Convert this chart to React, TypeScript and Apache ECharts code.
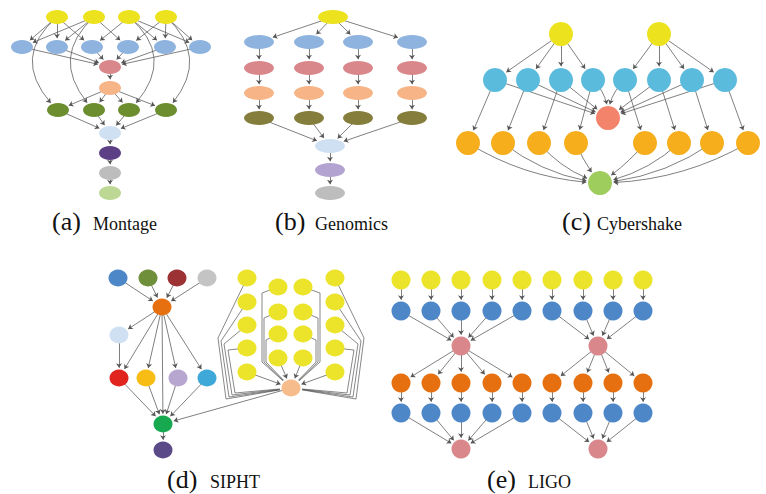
import { useEffect, useRef } from 'react';
import * as echarts from 'echarts';

// ---------- palette ----------
const PALETTE: Record<string, string> = {
  yellow: '#ece21e',
  mblue: '#8eb3de',
  pink: '#d9878b',
  peach: '#f7b486',
  mgreen: '#6c8e2f',
  lblue: '#cfe0f3',
  mpurple: '#5d3f86',
  gray: '#bdbdbd',
  lgreen: '#bcd894',
  olive: '#857d3c',
  lavender: '#b3a3d0',
  cyan: '#5bbbdc',
  salmon: '#f4836c',
  amber: '#f6ae1d',
  cgreen: '#9fcd5d',
  sblue: '#4d87c7',
  solive: '#6f8f3a',
  sred: '#9c3234',
  sgray: '#c4c4c4',
  sorange: '#e6700f',
  red: '#e2241f',
  gold: '#f8bd14',
  slav: '#b7a6cf',
  sky: '#3ea8d9',
  sgreen: '#16a94f',
  spurple: '#5b4a88',
  speach: '#f6bc8c',
  syellow: '#ebe42a',
};

type N = [string, number, number, string];
type E = [string, string, number?];

// ---------- (a) Montage ----------
const montageNodes: N[] = [
  ['Y1', 57, 17, 'yellow'], ['Y2', 94, 17, 'yellow'], ['Y3', 129, 17, 'yellow'], ['Y4', 166, 17, 'yellow'],
  ['B1', 22, 47, 'mblue'], ['B2', 57, 47, 'mblue'], ['B3', 92, 47, 'mblue'], ['B4', 128, 47, 'mblue'], ['B5', 165, 47, 'mblue'], ['B6', 200, 47, 'mblue'],
  ['P', 110, 67, 'pink'], ['O', 110, 88, 'peach'],
  ['G1', 58, 110, 'mgreen'], ['G2', 94, 110, 'mgreen'], ['G3', 129, 110, 'mgreen'], ['G4', 166, 110, 'mgreen'],
  ['L', 110, 133, 'lblue'], ['U', 110, 153, 'mpurple'], ['S', 110, 173, 'gray'], ['E', 110, 193, 'lgreen'],
];
const montageEdges: E[] = [
  ['Y1', 'B1'], ['Y2', 'B1'], ['Y1', 'B2'], ['Y2', 'B2'], ['Y1', 'B3'], ['Y3', 'B3'],
  ['Y2', 'B4'], ['Y4', 'B4'], ['Y3', 'B5'], ['Y4', 'B5'], ['Y3', 'B6'], ['Y4', 'B6'],
  ['B1', 'P'], ['B2', 'P'], ['B3', 'P'], ['B4', 'P'], ['B5', 'P'], ['B6', 'P'],
  ['P', 'O'], ['O', 'G1'], ['O', 'G2'], ['O', 'G3'], ['O', 'G4'],
  ['Y1', 'G1', -0.5], ['Y2', 'G2', -0.47], ['Y3', 'G3', 0.5], ['Y4', 'G4', 0.47],
  ['G1', 'L'], ['G2', 'L'], ['G3', 'L'], ['G4', 'L'],
  ['L', 'U'], ['U', 'S'], ['S', 'E'],
];

// ---------- (b) Genomics ----------
const genomicsNodes: N[] = [
  ['Y', 333, 17, 'yellow'],
  ['B1', 259, 42, 'mblue'], ['B2', 309, 42, 'mblue'], ['B3', 358, 42, 'mblue'], ['B4', 412, 42, 'mblue'],
  ['P1', 259, 68, 'pink'], ['P2', 309, 68, 'pink'], ['P3', 358, 68, 'pink'], ['P4', 412, 68, 'pink'],
  ['O1', 259, 93, 'peach'], ['O2', 309, 93, 'peach'], ['O3', 358, 93, 'peach'], ['O4', 412, 93, 'peach'],
  ['K1', 259, 118, 'olive'], ['K2', 309, 118, 'olive'], ['K3', 358, 118, 'olive'], ['K4', 412, 118, 'olive'],
  ['L', 330, 146, 'lblue'], ['V', 330, 170, 'lavender'], ['S', 330, 193, 'gray'],
];
const genomicsEdges: E[] = [
  ['Y', 'B1'], ['Y', 'B2'], ['Y', 'B3'], ['Y', 'B4'],
  ['B1', 'P1'], ['B2', 'P2'], ['B3', 'P3'], ['B4', 'P4'],
  ['P1', 'O1'], ['P2', 'O2'], ['P3', 'O3'], ['P4', 'O4'],
  ['O1', 'K1'], ['O2', 'K2'], ['O3', 'K3'], ['O4', 'K4'],
  ['K1', 'L'], ['K2', 'L'], ['K3', 'L'], ['K4', 'L'],
  ['L', 'V'], ['V', 'S'],
];

// ---------- (c) Cybershake ----------
const cyberNodes: N[] = [
  ['Y1', 561, 34, 'yellow'], ['Y2', 659, 34, 'yellow'],
  ['B1', 495, 80, 'cyan'], ['B2', 528, 80, 'cyan'], ['B3', 561, 80, 'cyan'], ['B4', 593, 80, 'cyan'],
  ['B5', 625, 80, 'cyan'], ['B6', 659, 80, 'cyan'], ['B7', 692, 80, 'cyan'], ['B8', 725, 80, 'cyan'],
  ['R', 608, 118, 'salmon'],
  ['O1', 468, 143, 'amber'], ['O2', 503, 143, 'amber'], ['O3', 539, 143, 'amber'], ['O4', 576, 143, 'amber'],
  ['O5', 645, 143, 'amber'], ['O6', 679, 143, 'amber'], ['O7', 712, 143, 'amber'], ['O8', 748, 143, 'amber'],
  ['G', 600, 183, 'cgreen'],
];
const cyberEdges: E[] = [
  ['Y1', 'B1'], ['Y1', 'B2'], ['Y1', 'B3'], ['Y1', 'B4'],
  ['Y2', 'B5'], ['Y2', 'B6'], ['Y2', 'B7'], ['Y2', 'B8'],
  ['B1', 'R'], ['B2', 'R'], ['B3', 'R'], ['B4', 'R', 0.15], ['B5', 'R', -0.15], ['B6', 'R'], ['B7', 'R'], ['B8', 'R'],
  ['B1', 'O1'], ['B2', 'O2'], ['B3', 'O3'], ['B4', 'O4'], ['B5', 'O5'], ['B6', 'O6'], ['B7', 'O7'], ['B8', 'O8'],
  ['O1', 'G', -0.12], ['O2', 'G', -0.12], ['O3', 'G', -0.12], ['O4', 'G', -0.06],
  ['O5', 'G', 0.06], ['O6', 'G', 0.12], ['O7', 'G', 0.12], ['O8', 'G', 0.12],
];

// ---------- (d) SIPHT ----------
const siphtNodes: N[] = [
  ['T1', 118, 278, 'sblue'], ['T2', 148, 278, 'solive'], ['T3', 177, 278, 'sred'], ['T4', 207, 278, 'sgray'],
  ['OR', 162, 307, 'sorange'], ['LB', 119, 335, 'lblue'],
  ['R1', 119, 378, 'red'], ['R2', 146, 378, 'gold'], ['R3', 178, 378, 'slav'], ['R4', 207, 378, 'sky'],
  ['GN', 163, 424, 'sgreen'], ['PU', 163, 450, 'spurple'], ['PE', 291, 388, 'speach'],
  ['A0', 247, 278, 'syellow'], ['A1', 247, 302, 'syellow'], ['A2', 247, 325, 'syellow'], ['A3', 247, 348, 'syellow'], ['A4', 247, 372, 'syellow'],
  ['C0', 278, 287, 'syellow'], ['C1', 278, 312, 'syellow'], ['C2', 278, 334, 'syellow'], ['C3', 278, 358, 'syellow'],
  ['D0', 303, 287, 'syellow'], ['D1', 303, 312, 'syellow'], ['D2', 303, 334, 'syellow'], ['D3', 303, 358, 'syellow'],
  ['F0', 335, 278, 'syellow'], ['F1', 335, 302, 'syellow'], ['F2', 335, 325, 'syellow'], ['F3', 335, 348, 'syellow'], ['F4', 335, 372, 'syellow'],
];
const siphtEdges: E[] = [
  ['T1', 'OR'], ['T2', 'OR'], ['T3', 'OR'], ['T4', 'OR'],
  ['OR', 'LB'], ['OR', 'R1'], ['OR', 'R2'], ['OR', 'R3'], ['OR', 'R4'], ['OR', 'GN'],
  ['LB', 'R1'],
  ['R1', 'GN'], ['R2', 'GN'], ['R3', 'GN'], ['R4', 'GN'],
  ['PE', 'GN'], ['GN', 'PU'],
  ['A4', 'PE'], ['F4', 'PE'], ['C3', 'PE'], ['D3', 'PE'],
];
// routed edges into the peach node: [from, bend points]
const siphtRoutes: [string, number[][]][] = [
  ['A0', [[218, 338], [226, 399]]],
  ['A1', [[221, 341], [229, 397]]],
  ['A2', [[224, 344], [232, 395]]],
  ['A3', [[228, 350], [235, 393]]],
  ['F0', [[364, 338], [356, 399]]],
  ['F1', [[361, 341], [353, 397]]],
  ['F2', [[358, 344], [350, 395]]],
  ['F3', [[354, 350], [347, 393]]],
  ['C0', [[262, 293], [262, 362]]],
  ['C1', [[264, 318], [264, 362]]],
  ['C2', [[266, 340], [266, 362]]],
  ['D0', [[320, 293], [320, 362]]],
  ['D1', [[318, 318], [318, 362]]],
  ['D2', [[316, 340], [316, 362]]],
];

// ---------- (e) LIGO ----------
const ligoNodes: N[] = [
  ['Ya0', 401, 280, 'syellow'], ['Ya1', 431, 280, 'syellow'], ['Ya2', 461, 280, 'syellow'], ['Ya3', 492, 280, 'syellow'], ['Ya4', 522, 280, 'syellow'],
  ['Yb0', 552, 280, 'syellow'], ['Yb1', 583, 280, 'syellow'], ['Yb2', 613, 280, 'syellow'], ['Yb3', 643, 280, 'syellow'],
  ['Ba0', 401, 311, 'sblue'], ['Ba1', 431, 311, 'sblue'], ['Ba2', 461, 311, 'sblue'], ['Ba3', 492, 311, 'sblue'], ['Ba4', 522, 311, 'sblue'],
  ['Bb0', 552, 311, 'sblue'], ['Bb1', 583, 311, 'sblue'], ['Bb2', 613, 311, 'sblue'], ['Bb3', 643, 311, 'sblue'],
  ['P1', 461, 346, 'pink'], ['P2', 598, 346, 'pink'],
  ['Oa0', 401, 383, 'sorange'], ['Oa1', 431, 383, 'sorange'], ['Oa2', 461, 383, 'sorange'], ['Oa3', 492, 383, 'sorange'], ['Oa4', 522, 383, 'sorange'],
  ['Ob0', 552, 383, 'sorange'], ['Ob1', 583, 383, 'sorange'], ['Ob2', 613, 383, 'sorange'], ['Ob3', 643, 383, 'sorange'],
  ['Ca0', 401, 413, 'sblue'], ['Ca1', 431, 413, 'sblue'], ['Ca2', 461, 413, 'sblue'], ['Ca3', 492, 413, 'sblue'], ['Ca4', 522, 413, 'sblue'],
  ['Cb0', 552, 413, 'sblue'], ['Cb1', 583, 413, 'sblue'], ['Cb2', 613, 413, 'sblue'], ['Cb3', 643, 413, 'sblue'],
  ['Q1', 461, 449, 'pink'], ['Q2', 598, 449, 'pink'],
];
const ligoEdges: E[] = [
  ['Ya0', 'Ba0'], ['Ya1', 'Ba1'], ['Ya2', 'Ba2'], ['Ya3', 'Ba3'], ['Ya4', 'Ba4'],
  ['Yb0', 'Bb0'], ['Yb1', 'Bb1'], ['Yb2', 'Bb2'], ['Yb3', 'Bb3'],
  ['Ba0', 'P1'], ['Ba1', 'P1'], ['Ba2', 'P1'], ['Ba3', 'P1'], ['Ba4', 'P1'],
  ['Bb0', 'P2'], ['Bb1', 'P2'], ['Bb2', 'P2'], ['Bb3', 'P2'],
  ['P1', 'Oa0'], ['P1', 'Oa1'], ['P1', 'Oa2'], ['P1', 'Oa3'], ['P1', 'Oa4'],
  ['P2', 'Ob0'], ['P2', 'Ob1'], ['P2', 'Ob2'], ['P2', 'Ob3'],
  ['Oa0', 'Ca0'], ['Oa1', 'Ca1'], ['Oa2', 'Ca2'], ['Oa3', 'Ca3'], ['Oa4', 'Ca4'],
  ['Ob0', 'Cb0'], ['Ob1', 'Cb1'], ['Ob2', 'Cb2'], ['Ob3', 'Cb3'],
  ['Ca0', 'Q1'], ['Ca1', 'Q1'], ['Ca2', 'Q1'], ['Ca3', 'Q1'], ['Ca4', 'Q1'],
  ['Cb0', 'Q2'], ['Cb1', 'Q2'], ['Cb2', 'Q2'], ['Cb3', 'Q2'],
];

// ---------- captions ----------
const captionTags = ['(a)', '(b)', '(c)', '(d)', '(e)'];
const captionNames = ['Montage', 'Genomics', 'Cybershake', 'SIPHT', 'LIGO'];

const W = 766;
const H = 494;
const ARROW = 4.5;
const EDGE_COLOR = '#555555';
const SERIF = "'Liberation Serif', 'Times New Roman', serif";

const panels = [
  { nodes: montageNodes, edges: montageEdges, size: [22, 14] },
  { nodes: genomicsNodes, edges: genomicsEdges, size: [30, 14] },
  { nodes: cyberNodes, edges: cyberEdges, size: [24, 24] },
  { nodes: siphtNodes, edges: siphtEdges, size: [19, 17], routes: siphtRoutes },
  { nodes: ligoNodes, edges: ligoEdges, size: [19, 19] },
];
const captionLayout = [
  { tagX: 52, nameX: 93, base: 230 },
  { tagX: 275, nameX: 315, base: 230 },
  { tagX: 562, nameX: 597, base: 230 },
  { tagX: 167, nameX: 210, base: 488 },
  { tagX: 487, nameX: 528, base: 488 },
];

function trimTo(from: number[], to: number[], size: number[]) {
  const dx = to[0] - from[0];
  const dy = to[1] - from[1];
  const len = Math.hypot(dx, dy) || 1;
  const ux = dx / len;
  const uy = dy / len;
  const rx = size[0] / 2;
  const ry = size[1] / 2;
  const r = 1 / Math.sqrt((ux / rx) ** 2 + (uy / ry) ** 2);
  const d = r + ARROW / 2 - 0.5;
  return [to[0] - ux * d, to[1] - uy * d];
}

function buildOption() {
  const series: any[] = [];
  panels.forEach((p) => {
    const pos = new Map<string, N>();
    p.nodes.forEach((n) => pos.set(n[0], n));
    const lineData = p.edges.map(([a, b, c]) => {
      const A = pos.get(a)!;
      const B = pos.get(b)!;
      const cv = c || 0;
      const s = [A[1], A[2]];
      const t = [B[1], B[2]];
      const cp = [
        (s[0] + t[0]) / 2 - (s[1] - t[1]) * cv,
        (s[1] + t[1]) / 2 - (t[0] - s[0]) * cv,
      ];
      const end = trimTo(cv ? cp : s, t, p.size);
      return { coords: [s, end], lineStyle: { curveness: cv } };
    });
    series.push({
      type: 'lines',
      coordinateSystem: 'cartesian2d',
      silent: true,
      z: 2,
      symbol: ['none', 'arrow'],
      symbolSize: ARROW,
      lineStyle: { color: EDGE_COLOR, width: 0.75, opacity: 1 },
      data: lineData,
    });
    if (p.routes) {
      const routeData = p.routes.map(([a, bends]) => {
        const A = pos.get(a)!;
        const T = pos.get('PE')!;
        const last = bends[bends.length - 1];
        const end = trimTo(last, [T[1], T[2]], p.size);
        return { coords: [[A[1], A[2]], ...bends, end] };
      });
      series.push({
        type: 'lines',
        coordinateSystem: 'cartesian2d',
        polyline: true,
        silent: true,
        z: 2,
        symbol: ['none', 'arrow'],
        symbolSize: ARROW,
        lineStyle: { color: EDGE_COLOR, width: 0.7, opacity: 1 },
        data: routeData,
      });
    }
    series.push({
      type: 'scatter',
      silent: true,
      z: 3,
      symbol: 'circle',
      symbolSize: p.size,
      data: p.nodes.map((n) => ({ value: [n[1], n[2]], itemStyle: { color: PALETTE[n[3]], opacity: 1 } })),
    });
  });

  const graphic: any[] = [];
  captionTags.forEach((tag, i) => {
    const l = captionLayout[i];
    graphic.push({
      type: 'text',
      x: l.tagX,
      y: l.base - 26 * 0.34,
      style: { text: tag, fontFamily: SERIF, fontSize: 26, fill: '#111', verticalAlign: 'middle', align: 'left' },
    });
    graphic.push({
      type: 'text',
      x: l.nameX,
      y: l.base - 18 * 0.34,
      style: { text: captionNames[i], fontFamily: SERIF, fontSize: 18, fill: '#111', verticalAlign: 'middle', align: 'left' },
    });
  });

  return {
    animation: false,
    backgroundColor: '#ffffff',
    grid: { left: 0, right: 0, top: 0, bottom: 0 },
    xAxis: { type: 'value', min: 0, max: W, show: false },
    yAxis: { type: 'value', min: 0, max: H, inverse: true, show: false },
    series,
    graphic,
  };
}

export default function App() {
  const ref = useRef<HTMLDivElement>(null);
  useEffect(() => {
    const chart = echarts.init(ref.current!, null, { renderer: 'svg' });
    chart.setOption(buildOption() as any);
    return () => chart.dispose();
  }, []);
  return (
    <div
      ref={ref}
      style={{ position: 'fixed', left: 0, top: 0, width: W, height: H, background: '#fff' }}
    />
  );
}
